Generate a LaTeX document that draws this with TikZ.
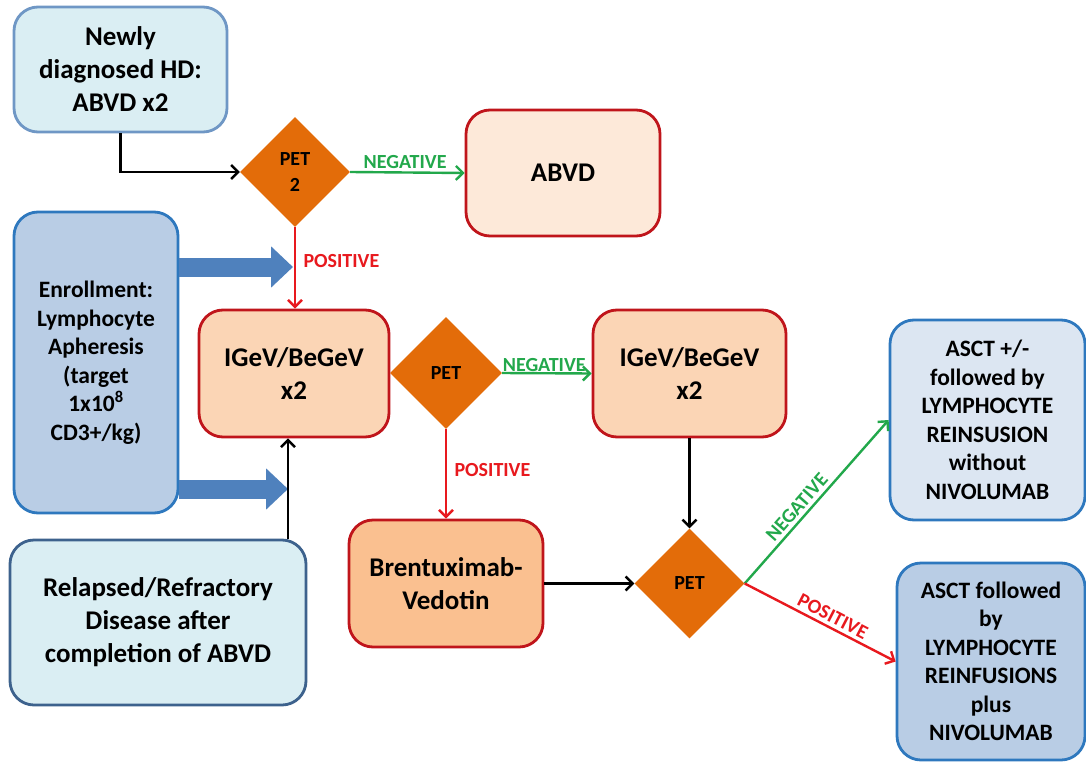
\documentclass[tikz,border=0pt]{standalone}
\usepackage{fontspec}
\setmainfont{Carlito}
\usetikzlibrary{shapes.geometric,arrows.meta}
\definecolor{lbfill}{HTML}{DAEEF3}
\definecolor{lbdraw}{HTML}{6F97C5}
\definecolor{lbdark}{HTML}{3D628D}
\definecolor{bfill}{HTML}{B9CDE5}
\definecolor{bpale}{HTML}{DCE6F2}
\definecolor{bdraw}{HTML}{2E78BE}
\definecolor{rdraw}{HTML}{C0151B}
\definecolor{ofill1}{HTML}{FDE9D9}
\definecolor{ofill2}{HTML}{FBD5B5}
\definecolor{ofill3}{HTML}{FAC090}
\definecolor{dia}{HTML}{E36C09}
\definecolor{gline}{HTML}{22A84B}
\definecolor{rline}{HTML}{E8191E}
\definecolor{barrow}{HTML}{4F81BD}
\tikzset{
  box/.style={rounded corners=24pt, line width=2.8pt, align=center, inner sep=2pt,
    font=\bfseries\fontsize{27}{33}\selectfont},
  smallbox/.style={box, font=\bfseries\fontsize{23.5}{28.5}\selectfont},
  petdia/.style={diamond, aspect=1, fill=dia, minimum width=110pt, minimum height=110pt,
    inner sep=0pt, align=center, font=\bfseries\fontsize{20}{26}\selectfont},
  conn/.style={line width=2.4pt, -{Straight Barb[length=7pt,width=14pt,line width=2.4pt]}},
  lbl/.style={font=\bfseries\fontsize{20}{22}\selectfont},
  fat/.style={barrow, line width=19pt, -{Triangle[length=22pt,width=40pt]}}
}
\begin{document}
\begin{tikzpicture}[x=1pt,y=-1pt]
\useasboundingbox (0,0) rectangle (1086,765);
\fill[white] (0,0) rectangle (1086,765);

% boxes
\node[box, fill=lbfill, draw=lbdraw, minimum width=213pt, minimum height=125pt] (newly) at (120.5,69.5) {Newly\\diagnosed HD:\\ABVD x2};
\node[box, fill=ofill1, draw=rdraw, minimum width=194pt, minimum height=126pt] (abvd) at (563,173) {ABVD};
\node[smallbox, fill=bfill, draw=bdraw, minimum width=164pt, minimum height=301pt] (enr) at (96,362.5) {Enrollment:\\Lymphocyte\\Apheresis\\(target\\1x10\textsuperscript{8}\\CD3+/kg)};
\node[box, fill=ofill2, draw=rdraw, minimum width=190pt, minimum height=127pt] (igev1) at (294,373.5) {IGeV/BeGeV\\x2};
\node[box, fill=ofill2, draw=rdraw, minimum width=193pt, minimum height=127pt] (igev2) at (689.5,373.5) {IGeV/BeGeV\\x2};
\node[box, fill=ofill3, draw=rdraw, minimum width=194pt, minimum height=127pt] (brent) at (446,583.5) {Brentuximab-\\Vedotin};
\node[smallbox, fill=bpale, draw=bdraw, minimum width=195pt, minimum height=200pt] (asct1) at (987.5,420) {ASCT +/-\\followed by\\LYMPHOCYTE\\REINSUSION\\without\\NIVOLUMAB};
\node[smallbox, fill=bfill, draw=bdraw, minimum width=188pt, minimum height=197pt] (asct2) at (991,661.5) {ASCT followed\\by\\LYMPHOCYTE\\REINFUSIONS\\plus\\NIVOLUMAB};
\node[box, fill=lbfill, draw=lbdark, minimum width=296pt, minimum height=165pt] (relap) at (158,622.5) {Relapsed/Refractory\\Disease after\\completion of ABVD};

% diamonds
\node[petdia] (pet2) at (295,172) {PET\\2};
\node[petdia, minimum width=112pt, minimum height=112pt] (petm) at (446,373) {PET};
\node[petdia] (petl) at (689.5,583.5) {PET};

% helper coordinates
\coordinate (rx) at (288,0);
\coordinate (up) at (0,267);
\coordinate (lo) at (0,489);
\coordinate (upend) at (293,267);
\coordinate (loend) at (288,489);

% fat blue arrows
\draw[fat] (enr.east |- up) -- (upend);
\draw[fat] (enr.east |- lo) -- (loend);

% connectors
\draw[conn] (newly.south) |- (pet2.west);
\draw[conn, gline] (pet2.east) -- node[lbl, above=-1pt, pos=0.48] {NEGATIVE} (abvd.west);
\draw[conn, rline] (pet2.south) -- node[lbl, right=4pt, pos=0.42] {POSITIVE} (pet2.south |- igev1.north);
\draw[conn] (relap.north -| rx) -- (igev1.south -| rx);
\draw[conn, gline] (petm.east) -- node[lbl, above=-3pt, pos=0.47] {NEGATIVE} (igev2.west);
\draw[conn, rline] (petm.south) -- node[lbl, right=4pt, pos=0.46] {POSITIVE} (petm.south |- brent.north);
\draw[conn] (igev2.south) -- (igev2.south |- petl.north);
\draw[conn] (brent.east) -- (petl.west);
\draw[conn, gline] (petl.east) -- node[lbl, sloped, above=0pt, pos=0.42] {NEGATIVE} (asct1.west);
\draw[conn, rline] (petl.east) -- node[lbl, sloped, above=0pt, pos=0.55] {POSITIVE} (asct2.west);
\end{tikzpicture}
\end{document}
